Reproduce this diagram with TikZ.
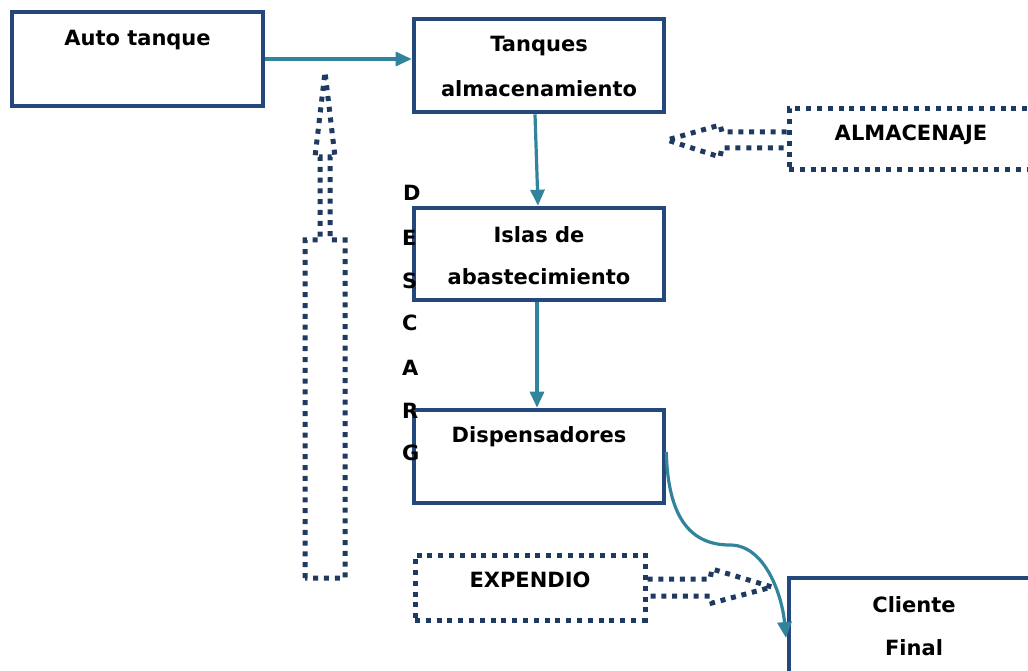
\documentclass[tikz,border=0pt]{standalone}
\usepackage{fontspec}
\setmainfont{DejaVu Sans}
\usetikzlibrary{arrows.meta,calc}
\definecolor{boxblue}{HTML}{25487C}
\definecolor{tealc}{HTML}{31849B}
\definecolor{dotc}{HTML}{1F3A60}
\begin{document}
\begin{tikzpicture}[x=1pt,y=-1pt,
  box/.style={draw=boxblue,line width=4.6pt,rectangle,inner sep=0pt,fill=white},
  dotbox/.style={draw=dotc,line width=5pt,dash pattern=on 5pt off 5.8pt,rectangle,inner sep=0pt},
  dotline/.style={draw=dotc,line width=5pt,dash pattern=on 5pt off 5.8pt,line join=miter},
  flow/.style={draw=tealc,line width=3.2pt,-{Triangle[length=16pt,width=14pt]}},
  lbl/.style={font=\fontsize{21}{24}\selectfont\bfseries,inner sep=0pt,text=black},
  letter/.style={lbl,anchor=west}]
\useasboundingbox (0,0) rectangle (1028,671);
\clip (0,0) rectangle (1028,671);
% boxes
\node[box,minimum width=251pt,minimum height=94pt] (auto) at (137.5,59) {};
\node[box,minimum width=250pt,minimum height=93pt] (tanq) at (539,65.5) {};
\node[box,minimum width=250pt,minimum height=92pt] (islas) at (539,254) {};
\node[box,minimum width=250pt,minimum height=93pt] (disp) at (539,456.5) {};
\node[box,minimum width=256pt,minimum height=112pt] (cli) at (917,634) {};
\node[dotbox,minimum width=256pt,minimum height=61pt] (alm) at (917,139.5) {};
\node[dotbox,minimum width=230pt,minimum height=65pt] (exp) at (530,587.5) {};
% texts
\node[lbl] (tauto) at (137.5,40) {Auto tanque};
\node[lbl] (ttanq1) at (539,46) {Tanques};
\node[lbl] (ttanq2) at (539,89) {almacenamiento};
\node[lbl] (tislas1) at (539,235) {Islas de};
\node[lbl] (tislas2) at (539,277) {abastecimiento};
\node[lbl] (tdisp) at (539,437) {Dispensadores};
\node[lbl] (texp) at (530,580) {EXPENDIO};
\node[lbl] (talm) at (911,135) {ALMACENAJE};
\node[lbl] (tcli1) at (914,605) {Cliente};
\node[lbl] (tcli2) at (914,648) {Final};
% flow arrows
\draw[flow] (auto.east) -- (auto.east -| tanq.west);
\draw[flow] ([xshift=-4pt]tanq.south) -- ([xshift=-1pt]islas.north);
\draw[flow] ([xshift=-2pt]islas.south) -- ([xshift=-2pt]disp.north);
\coordinate (cmid) at (730,545);
\draw[flow] ([yshift=4.5pt]disp.east) .. controls (668,520) and (692,545) .. (cmid) .. controls (765,545) and (782,595) .. (786,638);
% dotted block arrows
\draw[dotline] (305,578) -- (305,240) -- (320,240) -- (320,157) -- (315,157) -- (325,72) -- (335,157) -- (330,157) -- (330,240) -- (345,240) -- (345,578) -- cycle;
\draw[dotline] (alm.west |- 0,132) -- (722,132) -- (720,125) -- (667,140) -- (720,157) -- (722,148) -- (alm.west |- 0,148);
\draw[dotline] (exp.east |- 0,579) -- (710,579) -- (712,569) -- (772,587) -- (712,603) -- (710,596) -- (exp.east |- 0,596);
% DESCARGA letters
\node[letter] (l1) at (403,193) {D};
\node[letter] (l2) at (402,238) {E};
\node[letter] (l3) at (402,281) {S};
\node[letter] (l4) at (402,323) {C};
\node[letter] (l5) at (402,368) {A};
\node[letter] (l6) at (402,411) {R};
\node[letter] (l7) at (402,453) {G};
\end{tikzpicture}
\end{document}
